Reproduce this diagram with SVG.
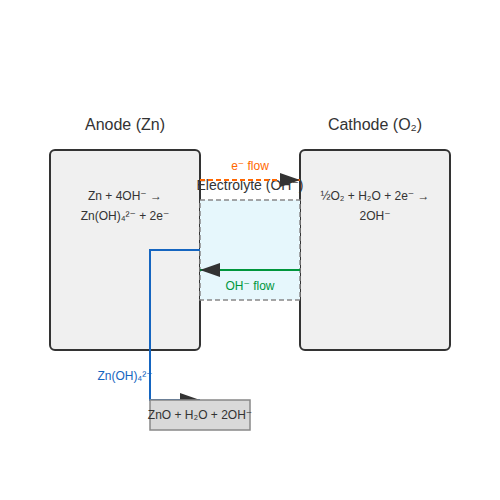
<svg xmlns="http://www.w3.org/2000/svg" width="500" height="500" viewBox="0 0 500 500">
<style>
.t{font-family:"Liberation Sans","DejaVu Sans",Arial,sans-serif;text-anchor:middle}
.title{font-size:16px;fill:#333}
.eq{font-size:12px;fill:#333}
.elec{fill:#f0f0f0;stroke:#333;stroke-width:2}
</style>
<defs>
<marker id="ah" markerWidth="10" markerHeight="7" refX="10" refY="3.5" orient="auto" markerUnits="strokeWidth">
<polygon points="0 0, 10 3.5, 0 7" fill="#333"/>
</marker>
</defs>
<rect width="500" height="500" fill="#fff"/>
<g id="anode">
<rect class="elec" x="50" y="150" width="150" height="200" rx="5"/>
<text class="t title" x="125" y="130">Anode (Zn)</text>
<text class="t eq" x="125" y="200">Zn + 4OH⁻ →</text>
<text class="t eq" x="125" y="220">Zn(OH)₄²⁻ + 2e⁻</text>
</g>
<g id="cathode">
<rect class="elec" x="300" y="150" width="150" height="200" rx="5"/>
<text class="t title" x="375" y="130">Cathode (O₂)</text>
<text class="t eq" x="375" y="200">½O₂ + H₂O + 2e⁻ →</text>
<text class="t eq" x="375" y="220">2OH⁻</text>
</g>
<g id="electrolyte">
<rect x="200" y="200" width="100" height="100" fill="#e6f7fc" stroke="#888" stroke-width="1.5" stroke-dasharray="5,3"/>
<text class="t" x="250" y="190" font-size="14" fill="#333">Electrolyte (OH⁻)</text>
</g>
<g id="connectors">
<line x1="200" y1="180" x2="300" y2="180" stroke="#f60" stroke-width="2" stroke-dasharray="5,3" marker-end="url(#ah)"/>
<text class="t" x="250" y="170" font-size="12" fill="#f60">e⁻ flow</text>
<line x1="300" y1="270" x2="200" y2="270" stroke="#00963c" stroke-width="2" marker-end="url(#ah)"/>
<text class="t" x="250" y="290" font-size="12" fill="#00963c">OH⁻ flow</text>
<polyline points="200,250 150,250 150,400 200,400" fill="none" stroke="#1565c0" stroke-width="2" marker-end="url(#ah)"/>
<text class="t" x="125" y="380" font-size="12" fill="#1565c0">Zn(OH)₄²⁻</text>
</g>
<g id="product">
<rect x="150" y="400" width="100" height="30" fill="#d9d9d9" stroke="#888" stroke-width="1.5"/>
<text class="t eq" x="200" y="419">ZnO + H₂O + 2OH⁻</text>
</g>
</svg>
